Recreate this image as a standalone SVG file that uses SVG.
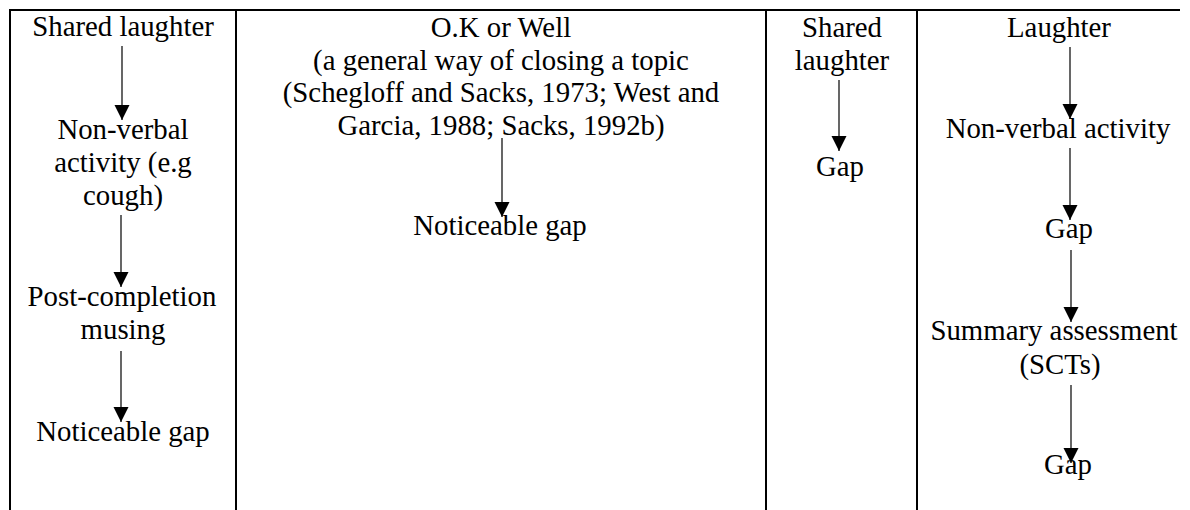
<svg xmlns="http://www.w3.org/2000/svg" width="1190" height="510" viewBox="0 0 1190 510">
<style>
.grid { stroke: #000; stroke-width: 2; fill: none; }
.conn line { stroke: #000; stroke-width: 1.2; marker-end: url(#ah); }
.lbl text { font-family: "Liberation Serif", "Times New Roman", serif; font-size: 28.8px; fill: #000; text-anchor: middle; }
</style>
<defs>
<marker id="ah" markerUnits="userSpaceOnUse" markerWidth="16" markerHeight="16" refX="15" refY="8" orient="auto" viewBox="0 0 16 16">
<path d="M0,0.5 L15,8 L0,15.5 Z" fill="#000"/>
</marker>
</defs>
<rect width="1190" height="510" fill="#fff"/>
<g id="table" class="grid">
<path d="M9,10 H1180"/>
<path d="M10,9 V510"/>
<path d="M236,9 V510"/>
<path d="M766,9 V510"/>
<path d="M917,9 V510"/>
</g>
<g id="connectors" class="conn">
<line x1="122" y1="46" x2="122" y2="120"/>
<line x1="121" y1="215" x2="121" y2="287"/>
<line x1="121" y1="351" x2="121" y2="422"/>
<line x1="502" y1="138" x2="502" y2="217"/>
<line x1="839" y1="80" x2="839" y2="151"/>
<line x1="1070" y1="47" x2="1070" y2="119"/>
<line x1="1070" y1="148" x2="1070" y2="220"/>
<line x1="1071" y1="250" x2="1071" y2="322"/>
<line x1="1071" y1="385" x2="1071" y2="463"/>
</g>
<g id="labels" class="lbl">
<g id="c1-shared-laughter"><text x="123" y="36">Shared laughter</text></g>
<g id="c1-non-verbal"><text x="123" y="139">Non-verbal</text><text x="123" y="172">activity (e.g</text><text x="123" y="205">cough)</text></g>
<g id="c1-post-completion"><text x="122" y="306">Post-completion</text><text x="123" y="339">musing</text></g>
<g id="c1-noticeable-gap"><text x="123" y="441">Noticeable gap</text></g>
<g id="c2-ok-well"><text x="501" y="37">O.K or Well</text><text x="501" y="70">(a general way of closing a topic</text><text x="501" y="102">(Schegloff and Sacks, 1973; West and</text><text x="501" y="135">Garcia, 1988; Sacks, 1992b)</text></g>
<g id="c2-noticeable-gap"><text x="500" y="235">Noticeable gap</text></g>
<g id="c3-shared-laughter"><text x="842" y="37">Shared</text><text x="842" y="70">laughter</text></g>
<g id="c3-gap"><text x="840" y="176">Gap</text></g>
<g id="c4-laughter"><text x="1059" y="37">Laughter</text></g>
<g id="c4-non-verbal"><text x="1058" y="138">Non-verbal activity</text></g>
<g id="c4-gap1"><text x="1069" y="238">Gap</text></g>
<g id="c4-summary"><text x="1054" y="340">Summary assessment</text><text x="1060" y="374">(SCTs)</text></g>
<g id="c4-gap2"><text x="1068" y="474">Gap</text></g>
</g>
</svg>
